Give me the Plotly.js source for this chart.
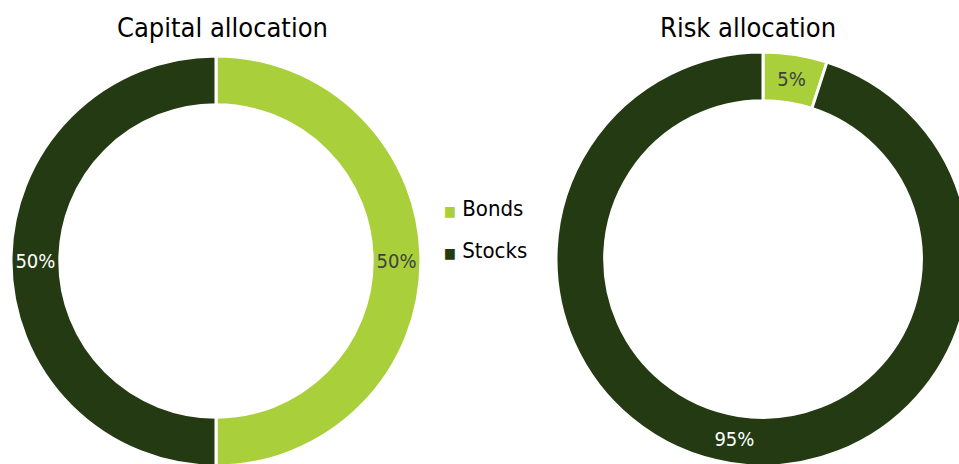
<!DOCTYPE html>
<html>
<head>
<meta charset="utf-8">
<script src="https://cdn.plot.ly/plotly-3.0.1.min.js"></script>
<style>
html,body{margin:0;padding:0;overflow:hidden;background:#fff;}
#chart{width:1000px;height:470px;}
</style>
</head>
<body>
<div id="chart"></div>
<script>
const categories = ["Bonds", "Stocks"];
const capitalValues = [50, 50];
const riskValues = [5, 95];
const chartTitles = ["Capital allocation", "Risk allocation"];
const sliceColors = ["#A9D03A", "#233A13"];
const labelColors = ["#404040", "#FFFFFF"];

const FONT = "DejaVu Sans Condensed, Tahoma, Verdana, sans-serif";
const W = 1000, H = 470;

function pieTrace(values, cx, cy, r, hole) {
  return {
    type: "pie",
    labels: categories,
    values: values,
    sort: false,
    direction: "clockwise",
    rotation: 0,
    hole: hole,
    textinfo: "percent",
    textposition: "inside",
    insidetextorientation: "horizontal",
    textfont: {family: FONT, size: 20, color: labelColors},
    marker: {colors: sliceColors, line: {color: "#FFFFFF", width: 3}},
    domain: {x: [(cx - r) / W, (cx + r) / W], y: [1 - (cy + r) / H, 1 - (cy - r) / H]},
    showlegend: false,
    hoverinfo: "label+percent"
  };
}

const data = [
  pieTrace(capitalValues, 216, 261, 205, 0.762),
  pieTrace(riskValues, 763, 259, 207, 0.765)
];

const annotations = [
  {text: chartTitles[0], x: 222 / W, y: 1 - 27 / H},
  {text: chartTitles[1], x: 748 / W, y: 1 - 27 / H}
].map(a => Object.assign(a, {
  xref: "paper", yref: "paper", xanchor: "center", yanchor: "middle",
  showarrow: false, font: {family: FONT, size: 27, color: "#000000"}
}));

const legendY = [208, 250];
categories.forEach((c, i) => {
  annotations.push({
    text: "<span style='color:" + sliceColors[i] + ";font-size:14px'>■</span> " + c,
    x: 442 / W, y: 1 - legendY[i] / H,
    xref: "paper", yref: "paper", xanchor: "left", yanchor: "middle",
    showarrow: false, font: {family: FONT, size: 22, color: "#000000"}
  });
});

const layout = {
  width: W, height: H,
  margin: {l: 0, r: 0, t: 0, b: 0},
  paper_bgcolor: "#FFFFFF",
  showlegend: false,
  annotations: annotations
};

Plotly.newPlot("chart", data, layout, {displayModeBar: false, staticPlot: true});
</script>
</body>
</html>
